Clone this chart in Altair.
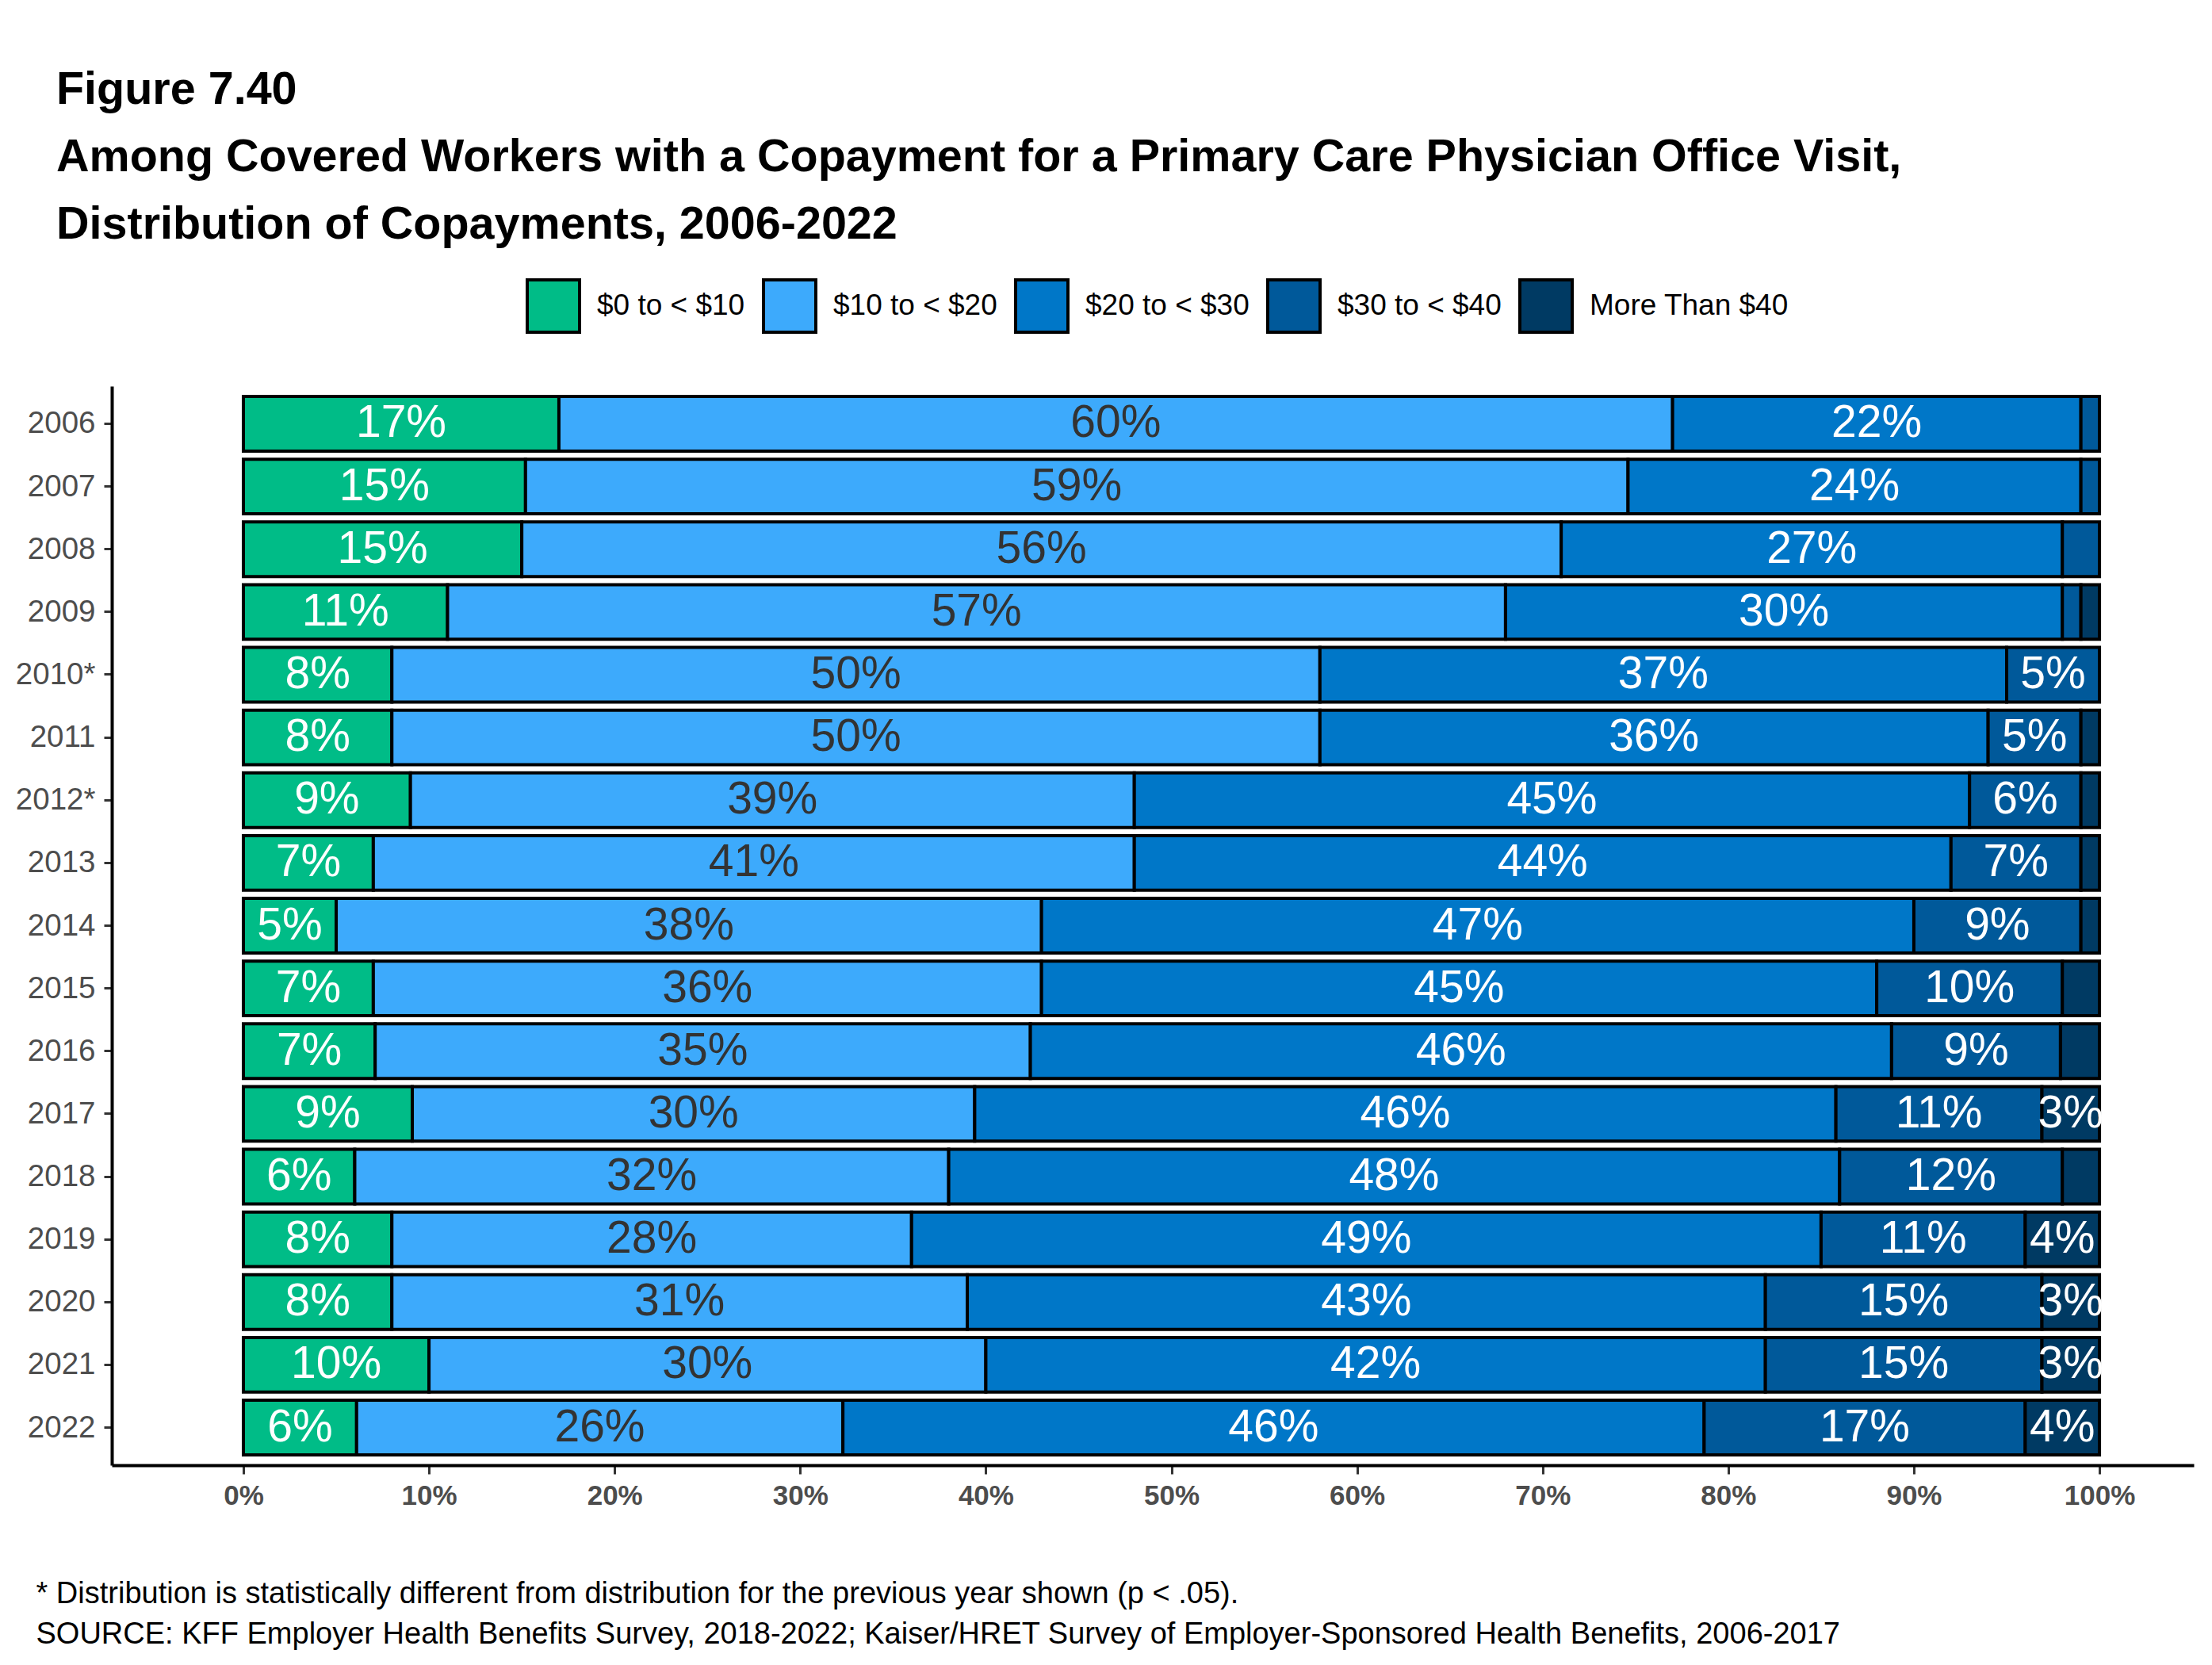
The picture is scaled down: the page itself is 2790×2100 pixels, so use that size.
import altair as alt
import pandas as pd

years = ["2006", "2007", "2008", "2009", "2010*", "2011", "2012*", "2013", "2014",
         "2015", "2016", "2017", "2018", "2019", "2020", "2021", "2022"]
categories = ["$0 to < $10", "$10 to < $20", "$20 to < $30", "$30 to < $40", "More Than $40"]
colors = ["#00BC87", "#3DAAFC", "#0077C8", "#00599A", "#003A63"]

share_0_10 = [17.0, 15.2, 15.0, 11.0, 8.0, 8.0, 9.0, 7.0, 5.0, 7.0, 7.1, 9.1, 6.0, 8.0, 8.0, 10.0, 6.1]
share_10_20 = [60.0, 59.4, 56.0, 57.0, 50.0, 50.0, 39.0, 41.0, 38.0, 36.0, 35.3, 30.3, 32.0, 28.0, 31.0, 30.0, 26.2]
share_20_30 = [22.0, 24.4, 27.0, 30.0, 37.0, 36.0, 45.0, 44.0, 47.0, 45.0, 46.4, 46.4, 48.0, 49.0, 43.0, 42.0, 46.4]
share_30_40 = [1.0, 1.0, 2.0, 1.0, 5.0, 5.0, 6.0, 7.0, 9.0, 10.0, 9.1, 11.1, 12.0, 11.0, 14.9, 14.9, 17.3]
share_40_plus = [0.0, 0.0, 0.0, 1.0, 0.0, 1.0, 1.0, 1.0, 1.0, 2.0, 2.1, 3.1, 2.0, 4.0, 3.1, 3.1, 4.0]

title_lines = [
    "Figure 7.40",
    "Among Covered Workers with a Copayment for a Primary Care Physician Office Visit,",
    "Distribution of Copayments, 2006-2022",
]
footnotes = [
    "* Distribution is statistically different from distribution for the previous year shown (p < .05).",
    "SOURCE: KFF Employer Health Benefits Survey, 2018-2022; Kaiser/HRET Survey of Employer-Sponsored Health Benefits, 2006-2017",
]
x_ticks = [0, 0.1, 0.2, 0.3, 0.4, 0.5, 0.6, 0.7, 0.8, 0.9, 1.0]

series = [share_0_10, share_10_20, share_20_30, share_30_40, share_40_plus]
rows = []
for i, yr in enumerate(years):
    cum = 0.0
    for k, cat in enumerate(categories):
        v = series[k][i]
        if v > 0:
            rows.append({
                "year": yr, "category": cat, "order": k,
                "start": cum / 100, "end": (cum + v) / 100, "mid": (cum + v / 2) / 100,
                "label": f"{int(v + 0.5)}%" if v >= 2.5 else "",
                "dark": k == 1,
            })
        cum += v
df = pd.DataFrame(rows)

FONT = "Liberation Sans, Arial, sans-serif"
xscale = alt.Scale(domain=[-0.0709, 1.0508], nice=False)
yscale = alt.Scale(paddingInner=0.13, paddingOuter=0.165)

yenc = alt.Y("year:N", sort=years, scale=yscale,
             axis=alt.Axis(title=None, labelFontSize=38.5, labelColor="#4D4D4D", labelFont=FONT,
                           domainColor="black", domainWidth=4, tickColor="#333333", tickWidth=3,
                           tickSize=10, labelPadding=11))

bars = alt.Chart(df).mark_bar(stroke="black", strokeWidth=4).encode(
    y=yenc,
    x=alt.X("start:Q", scale=xscale,
            axis=alt.Axis(values=x_ticks, format=".0%", labelFontSize=35, labelFontWeight="bold",
                          labelColor="#4D4D4D", labelFont=FONT, tickSize=11, tickWidth=3,
                          tickColor="#333333", domainColor="black", domainWidth=4, grid=False,
                          labelPadding=10, title=footnotes, titleFontSize=38, titleFontWeight="normal",
                          titleColor="black", titleFont=FONT, titleX=-96, titleY=173, titleAlign="left",
                          titleBaseline="alphabetic", titleLineHeight=51, titleAngle=0, titleLimit=0)),
    x2="end:Q",
    color=alt.Color("category:N", scale=alt.Scale(domain=categories, range=colors),
                    legend=alt.Legend(title=None, orient="none", legendX=522, legendY=-136,
                                      direction="horizontal", symbolType="square", symbolSize=4356,
                                      symbolStrokeColor="black", symbolStrokeWidth=4, symbolOpacity=1,
                                      labelFontSize=37, labelColor="black", labelFont=FONT,
                                      labelLimit=0, labelOffset=20, columnPadding=15, padding=0)),
    order=alt.Order("order:Q"),
)

labels_white = alt.Chart(df).transform_filter("!datum.dark").mark_text(
    fontSize=57, font=FONT, color="white", align="center", baseline="middle"
).encode(y=alt.Y("year:N", sort=years, scale=yscale), x=alt.X("mid:Q", scale=xscale), text="label:N")

labels_dark = alt.Chart(df).transform_filter("datum.dark").mark_text(
    fontSize=57, font=FONT, color="#333333", align="center", baseline="middle"
).encode(y=alt.Y("year:N", sort=years, scale=yscale), x=alt.X("mid:Q", scale=xscale), text="label:N")

chart = alt.layer(bars, labels_white, labels_dark).properties(
    width=2626, height=1361,
    title=alt.TitleParams(text=title_lines, anchor="start", frame="group", fontSize=57.5,
                          fontWeight="bold", font=FONT, color="black", lineHeight=85, dx=-70, dy=-34),
    padding={"left": 133, "top": 479, "right": 15, "bottom": 244},
    autosize=alt.AutoSizeParams(type="none"),
).configure(background="white").configure_view(stroke=None)

chart.save("out.html", embed_options={"renderer": "svg", "actions": False})
